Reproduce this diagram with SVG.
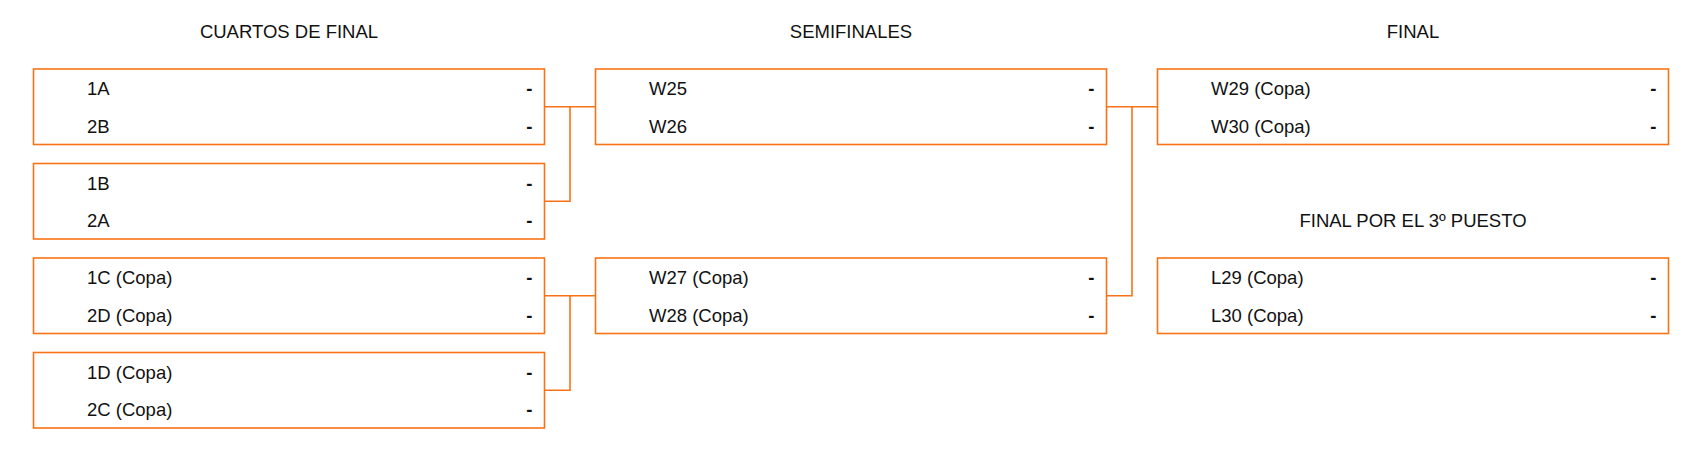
<svg xmlns="http://www.w3.org/2000/svg" width="1703" height="474" viewBox="0 0 1703 474">
<style>
  .box { fill: #ffffff; stroke: #f97316; stroke-width: 1.6; }
  .conn { fill: none; stroke: #f97316; stroke-width: 1.6; }
  .title { font-family: "Liberation Sans", Arial, sans-serif; font-size: 18.5px; fill: #111111; text-anchor: middle; }
  .team { font-family: "Liberation Sans", Arial, sans-serif; font-size: 18.5px; fill: #111111; }
  .score { font-family: "Liberation Sans", Arial, sans-serif; font-size: 18.5px; font-weight: bold; fill: #111111; text-anchor: end; }
</style>
<rect x="0" y="0" width="1703" height="474" fill="#ffffff"/>
<g id="titles">
  <text class="title" x="289" y="38">CUARTOS DE FINAL</text>
  <text class="title" x="851" y="38">SEMIFINALES</text>
  <text class="title" x="1413" y="38">FINAL</text>
  <text class="title" x="1413" y="226.5">FINAL POR EL 3º PUESTO</text>
</g>
<g id="connectors">
  <path class="conn" d="M544.5 106.75 H595.5 M570 106.75 V201.25 H544.5"/>
  <path class="conn" d="M544.5 295.75 H595.5 M570 295.75 V390.25 H544.5"/>
  <path class="conn" d="M1106.5 106.75 H1157.5 M1132 106.75 V295.75 H1106.5"/>
</g>
<g id="qf1">
  <rect class="box" x="33.5" y="69" width="511" height="75.5"/>
  <text class="team" x="87" y="95">1A</text><text class="score" x="532.5" y="95">-</text>
  <text class="team" x="87" y="132.5">2B</text><text class="score" x="532.5" y="132.5">-</text>
</g>
<g id="qf2">
  <rect class="box" x="33.5" y="163.5" width="511" height="75.5"/>
  <text class="team" x="87" y="189.5">1B</text><text class="score" x="532.5" y="189.5">-</text>
  <text class="team" x="87" y="227">2A</text><text class="score" x="532.5" y="227">-</text>
</g>
<g id="qf3">
  <rect class="box" x="33.5" y="258" width="511" height="75.5"/>
  <text class="team" x="87" y="284">1C (Copa)</text><text class="score" x="532.5" y="284">-</text>
  <text class="team" x="87" y="321.5">2D (Copa)</text><text class="score" x="532.5" y="321.5">-</text>
</g>
<g id="qf4">
  <rect class="box" x="33.5" y="352.5" width="511" height="75.5"/>
  <text class="team" x="87" y="378.5">1D (Copa)</text><text class="score" x="532.5" y="378.5">-</text>
  <text class="team" x="87" y="416">2C (Copa)</text><text class="score" x="532.5" y="416">-</text>
</g>
<g id="sf1">
  <rect class="box" x="595.5" y="69" width="511" height="75.5"/>
  <text class="team" x="649" y="95">W25</text><text class="score" x="1094.5" y="95">-</text>
  <text class="team" x="649" y="132.5">W26</text><text class="score" x="1094.5" y="132.5">-</text>
</g>
<g id="sf2">
  <rect class="box" x="595.5" y="258" width="511" height="75.5"/>
  <text class="team" x="649" y="284">W27 (Copa)</text><text class="score" x="1094.5" y="284">-</text>
  <text class="team" x="649" y="321.5">W28 (Copa)</text><text class="score" x="1094.5" y="321.5">-</text>
</g>
<g id="final">
  <rect class="box" x="1157.5" y="69" width="511" height="75.5"/>
  <text class="team" x="1211" y="95">W29 (Copa)</text><text class="score" x="1656.5" y="95">-</text>
  <text class="team" x="1211" y="132.5">W30 (Copa)</text><text class="score" x="1656.5" y="132.5">-</text>
</g>
<g id="third">
  <rect class="box" x="1157.5" y="258" width="511" height="75.5"/>
  <text class="team" x="1211" y="284">L29 (Copa)</text><text class="score" x="1656.5" y="284">-</text>
  <text class="team" x="1211" y="321.5">L30 (Copa)</text><text class="score" x="1656.5" y="321.5">-</text>
</g>
</svg>
